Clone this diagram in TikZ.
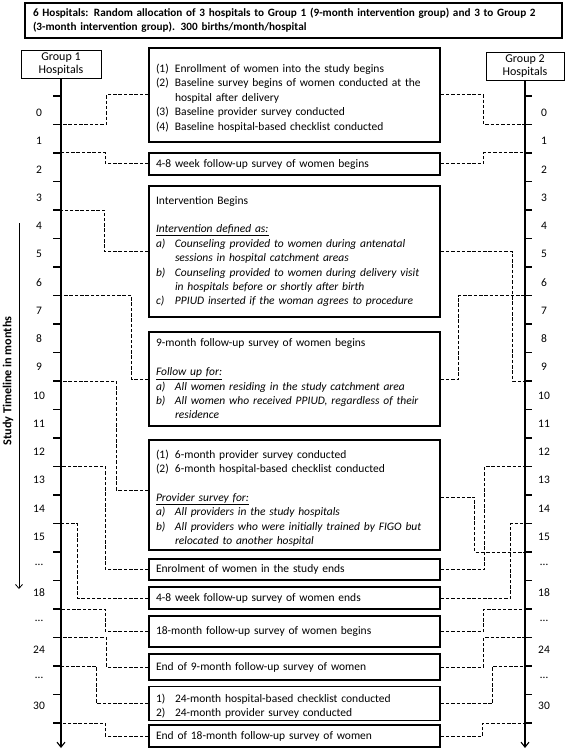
\documentclass[tikz,border=0pt]{standalone}
\usepackage{fontspec}
\setmainfont{Carlito}
\usepackage{tikz}
\usetikzlibrary{arrows.meta}
\setlength{\parindent}{0pt}

\newcommand{\litem}[2]{\par\noindent\makebox[19pt][l]{#1}\parbox[t]{258pt}{\raggedright #2}\par}
\newcommand{\gap}{\par\vspace{\baselineskip}}

\begin{document}
\begin{tikzpicture}[x=1pt, y=-1pt, every node/.style={font=\fontsize{11.5}{14.4}\selectfont},
  box/.style={rectangle, draw, line width=1.2pt, inner xsep=7pt, inner ysep=2pt, align=left, text width=277pt},
  grpbox/.style={rectangle, draw, line width=0.9pt, align=center, minimum width=80pt, minimum height=28pt, inner sep=1pt, font=\fontsize{12}{13.5}\selectfont},
  axis/.style={line width=1.1pt, -{Straight Barb[length=5pt,width=8pt]}},
  tickmark/.style={line width=1.1pt},
  dashline/.style={line width=1pt, dash pattern=on 3.5pt off 1.8pt}]
  \useasboundingbox (0,0) rectangle (567,754);

  \node[rectangle, draw, line width=1.4pt, minimum width=537pt, minimum height=35pt, inner xsep=8pt,
    text width=521pt, align=left, font=\fontsize{11.2}{14}\selectfont\bfseries] (title) at (293.5,20.5)
    {6 Hospitals: Random allocation of 3 hospitals to Group 1 (9-month intervention group) and 3 to Group 2\\
     (3-month intervention group). 300 births/month/hospital};

  \node[grpbox] (g1) at (61,64) {Group 1\\Hospitals};
  \node[grpbox, minimum width=78pt] (g2) at (525,66) {Group 2\\Hospitals};
  \coordinate (lend) at (61,748);
  \coordinate (rend) at (525,748);
  \draw[axis] (g1.south) -- (lend);
  \draw[axis] (g2.south) -- (rend);

  % month ticks on both time lines
  \foreach \k in {0,...,22} {
    \coordinate (lt\k) at (61,96+28.5*\k);
    \coordinate (rt\k) at (525,96+28.5*\k);
    \draw[tickmark] (lt\k) -- ++(-8,0);
    \draw[tickmark] (rt\k) -- ++(7,0);
  }
  \foreach \lab [count=\i from 0] in {0,1,2,3,4,5,6,7,8,9,10,11,12,13,14,15,{\dots},18,{\dots},24,{\dots},30} {
    \node (ll\i) at (39,113+28.24*\i) {\lab};
    \node (rl\i) at (544,113+28.24*\i) {\lab};
  }

  \node[rotate=90, font=\fontsize{12.2}{14}\selectfont\bfseries] (tlabel) at (8,381) {Study Timeline in months};
  \coordinate (ttop) at (19,223);
  \coordinate (tbot) at (19,589);
  \draw[line width=0.8pt, -{Straight Barb[length=4pt,width=7pt]}] (ttop) -- (tbot);

  % study events
  \node[box, minimum height=94pt] (enrol) at (294.5,95)
    {\litem{(1)}{Enrollment of women into the study begins}
     \litem{(2)}{Baseline survey begins of women conducted at the}
     \litem{}{hospital after delivery}
     \litem{(3)}{Baseline provider survey conducted}
     \litem{(4)}{Baseline hospital-based checklist conducted}};
  \node[box, minimum height=22pt] (fu48) at (294.5,164) {4-8 week follow-up survey of women begins};
  \node[box, minimum height=131pt] (interv) at (294.5,251.5)
    {Intervention Begins\gap
     {\itshape\underline{Intervention defined as:}}
     \litem{\itshape a)}{\itshape Counseling provided to women during antenatal}
     \litem{}{\itshape sessions in hospital catchment areas}
     \litem{\itshape b)}{\itshape Counseling provided to women during delivery visit}
     \litem{}{\itshape in hospitals before or shortly after birth}
     \litem{\itshape c)}{\itshape PPIUD inserted if the woman agrees to procedure}};
  \node[box, minimum height=94pt] (fu9) at (294.5,379)
    {9-month follow-up survey of women begins\gap
     {\itshape\underline{Follow up for:}}
     \litem{\itshape a)}{\itshape All women residing in the study catchment area}
     \litem{\itshape b)}{\itshape All women who received PPIUD, regardless of their}
     \litem{}{\itshape residence}};
  \node[box, minimum height=110pt] (prov6) at (294.5,495)
    {\litem{(1)}{6-month provider survey conducted}
     \litem{(2)}{6-month hospital-based checklist conducted}\gap
     {\itshape\underline{Provider survey for:}}
     \litem{\itshape a)}{\itshape All providers in the study hospitals}
     \litem{\itshape b)}{\itshape All providers who were initially trained by FIGO but}
     \litem{}{\itshape relocated to another hospital}};
  \node[box, minimum height=21pt] (enrolend) at (294.5,569.5) {Enrolment of women in the study ends};
  \node[box, minimum height=22pt] (fu48end) at (294.5,598) {4-8 week follow-up survey of women ends};
  \node[box, minimum height=31pt] (fu18) at (294.5,631.5) {18-month follow-up survey of women begins};
  \node[box, minimum height=26pt] (fu9end) at (294.5,667) {End of 9-month follow-up survey of women};
  \node[box, minimum height=31pt] (chk24) at (294.5,703.5)
    {\litem{1)}{24-month hospital-based checklist conducted}
     \litem{2)}{24-month provider survey conducted}};
  \node[box, minimum height=22pt] (fu18end) at (294.5,736) {End of 18-month follow-up survey of women};

  % Group 1 links
  \draw[dashline] (enrol.west) -- ++(-42,0) |- (lt1);
  \draw[dashline] (fu48.west) -- ++(-43,0) |- (lt2);
  \draw[dashline] (interv.west) -- ++(-44,0) |- (lt4);
  \draw[dashline] (fu9.west) -- ++(-17,0) |- (lt7);
  \draw[dashline] ([yshift=5pt]prov6.west) -- ++(-32,0) |- (lt10);
  \draw[dashline] (enrolend.west) -- ++(-43,0) |- (lt13);
  \draw[dashline] (fu48end.west) -- ++(-71,0) |- (lt15);
  \draw[dashline] (fu18.west) -- ++(-43,0) |- (lt18);
  \draw[dashline] (fu9end.west) -- ++(-42,0) |- (lt19);
  \draw[dashline] (chk24.west) -- ++(-52,0) |- (lt20);
  \draw[dashline] (fu18end.west) -- ++(-43,0) |- (lt22);
  % Group 2 links
  \draw[dashline] (enrol.east) -- ++(43,0) |- (rt1);
  \draw[dashline] (fu48.east) -- ++(43,0) |- (rt2);
  \draw[dashline] (interv.east) -- ++(72,0) |- (rt10);
  \draw[dashline] (fu9.east) -- ++(18,0) |- (rt7);
  \draw[dashline] ([yshift=-2pt]prov6.east) -- ++(34,0) |- (rt16);
  \draw[dashline] (enrolend.east) -- ++(44,0) |- (rt13);
  \draw[dashline] (fu48end.east) -- ++(70,0) |- (rt15);
  \draw[dashline] (fu18.east) -- ++(43,0) |- (rt18);
  \draw[dashline] (fu9end.east) -- ++(43,0) |- (rt19);
  \draw[dashline] (chk24.east) -- ++(52,0) |- (rt20);
  \draw[dashline] (fu18end.east) -- ++(42,0) |- (rt22);
\end{tikzpicture}
\end{document}
